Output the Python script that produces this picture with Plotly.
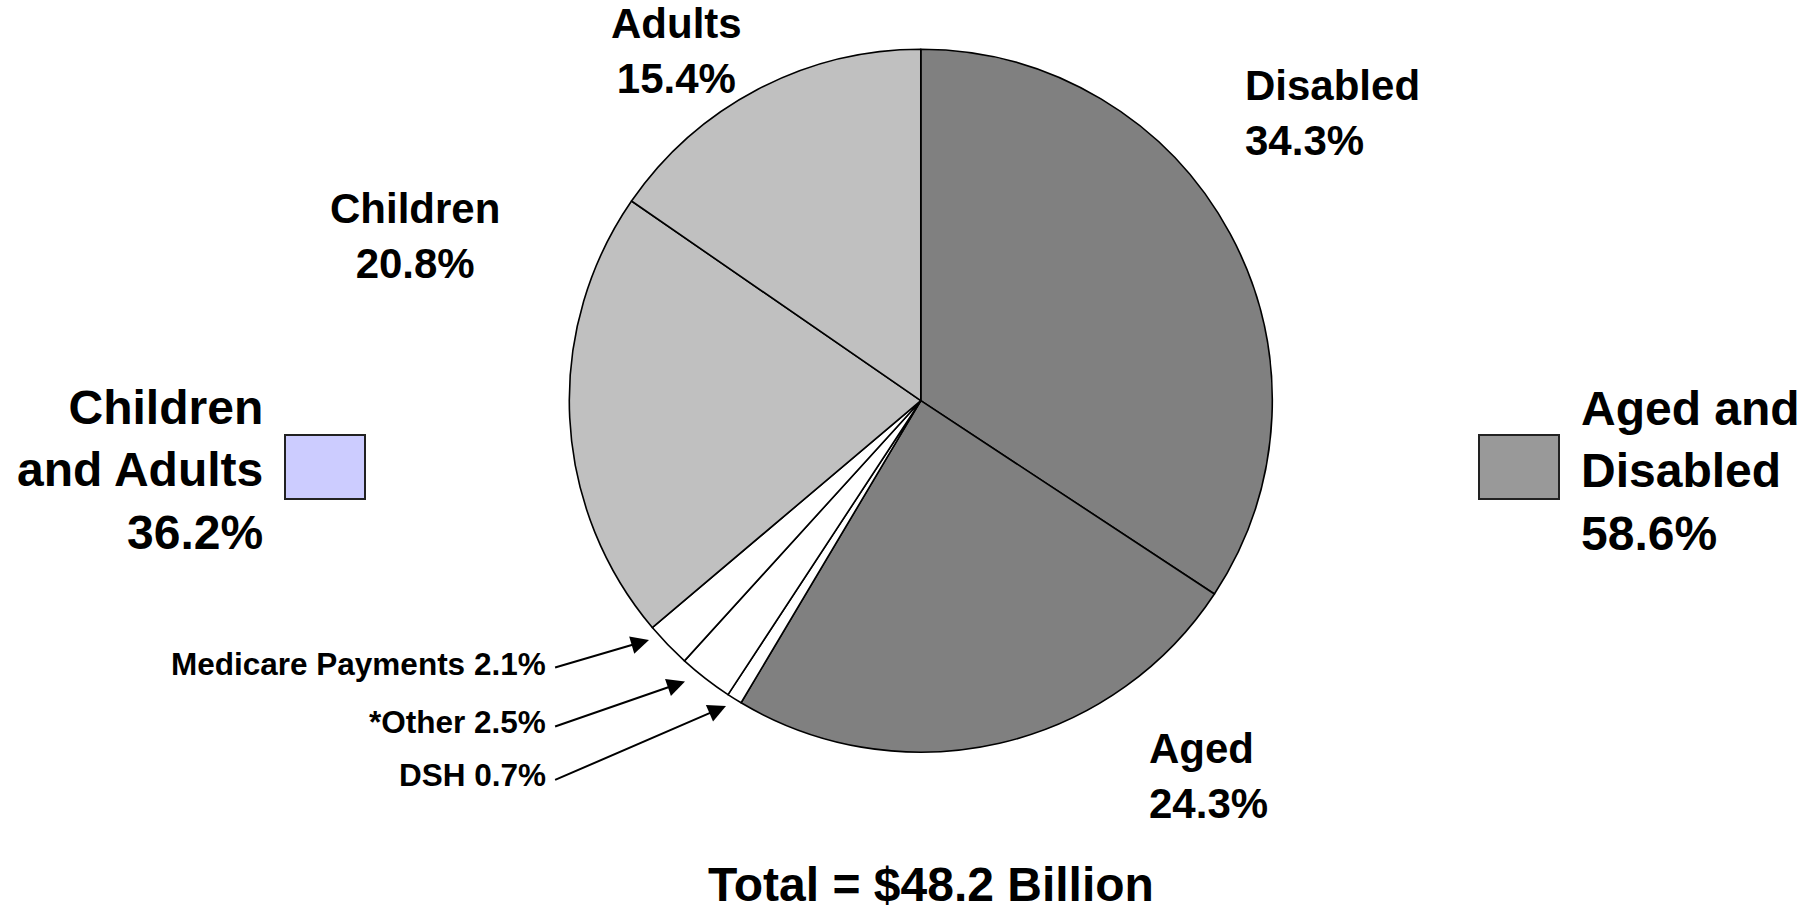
import plotly.graph_objects as go

# ---- data ----
categories = ["Disabled", "Aged", "DSH", "*Other", "Medicare Payments", "Children", "Adults"]
values = [34.3, 24.3, 0.7, 2.5, 2.1, 20.8, 15.4]
group_labels = ["Children<br>and Adults", "Aged and<br>Disabled"]
group_values = [36.2, 58.6]
total_text = "Total = $48.2 Billion"

# ---- styles ----
slice_colors = ["#808080", "#808080", "#ffffff", "#ffffff", "#ffffff", "#c0c0c0", "#c0c0c0"]
W, H = 1816, 911
FONT = "Liberation Sans, Arial, sans-serif"


def px(x):
    return x / W


def py(y):
    return 1 - y / H


cx, cy, r = 920.8, 400.7, 351.5

fig = go.Figure()
fig.add_trace(go.Pie(
    labels=categories,
    values=values,
    sort=False,
    direction="clockwise",
    rotation=0,
    textinfo="none",
    marker=dict(colors=slice_colors, line=dict(color="#000000", width=1.6)),
    domain=dict(x=[px(cx - r), px(cx + r)], y=[py(cy + r), py(cy - r)]),
    showlegend=False,
))

annotations = []

# big slice labels (outside)
big_pos = {
    "Disabled": (1243, 113.5, "left"),
    "Aged": (1147, 776, "left"),
    "Children": (415, 236, "center"),
    "Adults": (676, 51, "center"),
}
for cat, val in zip(categories, values):
    if cat in big_pos:
        x, y, anc = big_pos[cat]
        annotations.append(dict(
            x=px(x), y=py(y), xref="paper", yref="paper",
            text=f"<b>{cat}<br>{val}%</b>", showarrow=False,
            xanchor=anc, yanchor="middle", align=anc,
            font=dict(family=FONT, size=42, color="#000000"),
        ))

# small slice labels with arrows
small_pos = {
    "Medicare Payments": ((548, 663.6), (553.6, 668), (649, 640)),
    "*Other": ((548, 721.5), (553.6, 727), (685, 681.5)),
    "DSH": ((548, 774.8), (553.6, 780.6), (726, 706)),
}
for cat, val in zip(categories, values):
    if cat in small_pos:
        (tx, ty), (ax0, ay0), (hx, hy) = small_pos[cat]
        annotations.append(dict(
            x=px(tx), y=py(ty), xref="paper", yref="paper",
            text=f"<b>{cat} {val}%</b>", showarrow=False,
            xanchor="right", yanchor="middle",
            font=dict(family=FONT, size=31.5, color="#000000"),
        ))
        annotations.append(dict(
            x=px(hx), y=py(hy), xref="paper", yref="paper",
            text="", showarrow=True,
            ax=ax0 - hx, ay=ay0 - hy, axref="pixel", ayref="pixel",
            arrowhead=2, arrowsize=1.8, arrowwidth=2, arrowcolor="#000000",
            standoff=0, startstandoff=0,
        ))

# group legends
annotations.append(dict(
    x=px(265), y=py(470), xref="paper", yref="paper",
    text=f"<b>{group_labels[0]}<br>{group_values[0]}%</b>", showarrow=False,
    xanchor="right", yanchor="middle", align="right",
    font=dict(family=FONT, size=48, color="#000000"),
))
annotations.append(dict(
    x=px(1579), y=py(471), xref="paper", yref="paper",
    text=f"<b>{group_labels[1]}<br>{group_values[1]}%</b>", showarrow=False,
    xanchor="left", yanchor="middle", align="left",
    font=dict(family=FONT, size=48, color="#000000"),
))

# total
annotations.append(dict(
    x=px(930.6), y=py(884), xref="paper", yref="paper",
    text=f"<b>{total_text}</b>", showarrow=False,
    xanchor="center", yanchor="middle",
    font=dict(family=FONT, size=48, color="#000000"),
))

shapes = [
    dict(type="rect", xref="paper", yref="paper",
         x0=px(285), x1=px(365), y0=py(499), y1=py(435),
         fillcolor="#ccccff", line=dict(color="#222222", width=2)),
    dict(type="rect", xref="paper", yref="paper",
         x0=px(1479), x1=px(1559), y0=py(499), y1=py(435),
         fillcolor="#999999", line=dict(color="#222222", width=2)),
]

fig.update_layout(
    width=W, height=H,
    margin=dict(l=0, r=0, t=0, b=0),
    paper_bgcolor="#ffffff", plot_bgcolor="#ffffff",
    annotations=annotations, shapes=shapes,
    showlegend=False,
)

fig.write_html("out.html")
